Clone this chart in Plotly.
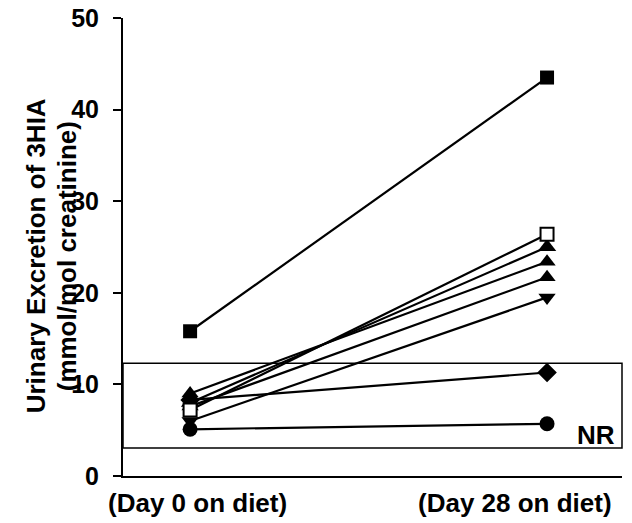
import plotly.graph_objects as go

# ---- data ----
day_labels = ["(Day 0 on diet)", "(Day 28 on diet)"]
day_x = [0, 1]
subj_filled_square = [15.8, 43.5]
subj_tri_a = [8.0, 25.0]
subj_open_square = [7.2, 26.4]
subj_tri_b = [9.0, 23.4]
subj_tri_c = [7.6, 21.7]
subj_tri_down = [6.0, 19.5]
subj_diamond = [8.3, 11.3]
subj_circle = [5.1, 5.7]
nr_low, nr_high = 3.05, 12.3
y_ticks = [0, 10, 20, 30, 40, 50]
y_title_lines = ["Urinary Excretion of 3HIA", "(mmol/mol creatinine)"]

FONT = "Liberation Sans, Arial, sans-serif"

series = [
    (subj_circle, "circle", "black", 15),
    (subj_diamond, "diamond", "black", 15),
    (subj_tri_down, "triangle-down", "black", 15),
    (subj_tri_c, "triangle-up", "black", 15),
    (subj_tri_b, "triangle-up", "black", 15),
    (subj_tri_a, "triangle-up", "black", 16),
    (subj_open_square, "square", "white", 13),
    (subj_filled_square, "square", "black", 14),
]

fig = go.Figure()
for vals, sym, fill, size in series:
    fig.add_trace(go.Scatter(
        x=day_x, y=vals, mode="lines+markers",
        line=dict(color="black", width=2.2),
        marker=dict(symbol=sym, color=fill, size=size,
                    line=dict(color="black", width=2 if fill == "white" else 0)),
        showlegend=False, hoverinfo="skip",
    ))

# NR reference box
fig.add_shape(type="rect", xref="paper", yref="y", x0=0, x1=1,
              y0=nr_low, y1=nr_high, line=dict(color="black", width=1.5),
              layer="below")
fig.add_annotation(text="<b>NR</b>", xref="paper", yref="y", x=0.99, y=nr_low - 0.4,
                   xanchor="right", yanchor="bottom", showarrow=False,
                   font=dict(family=FONT, size=26, color="black"))

# x category labels
for lab, xp in zip(day_labels, [0.02, 0.91]):
    fig.add_annotation(text=f"<b>{lab}</b>", xref="x", yref="paper", x=xp, y=-0.059,
                       xanchor="center", yanchor="middle", showarrow=False,
                       font=dict(family=FONT, size=26, color="black"))

# y title (two lines)
for txt, xp in zip(y_title_lines, [-0.174, -0.112]):
    fig.add_annotation(text=f"<b>{txt}</b>",
                       xref="paper", yref="paper", x=xp, y=0.48, textangle=-90,
                       xanchor="center", yanchor="middle", showarrow=False,
                       font=dict(family=FONT, size=26, color="black"))

fig.update_layout(
    width=632, height=523,
    margin=dict(l=123, r=10, t=18, b=47, autoexpand=False),
    paper_bgcolor="white", plot_bgcolor="white",
    xaxis=dict(range=[-0.188, 1.21], showline=True, linecolor="black", linewidth=2,
               showgrid=False, zeroline=False, showticklabels=False, ticks=""),
    yaxis=dict(range=[0, 50], showline=True, linecolor="black", linewidth=2,
               showgrid=False, zeroline=False, ticks="outside", ticklen=8,
               tickwidth=2, tickcolor="black", tickvals=y_ticks,
               ticktext=[f"<b>{v}</b>" for v in y_ticks],
               ticklabelstandoff=9, ticklabeloverflow="allow",
               tickfont=dict(family=FONT, size=25, color="black")),
)

# remove the default 8px page margin so the figure fills the window exactly
fig.write_html("out.html", config={"displayModeBar": False},
               post_script="document.body.style.margin='0';")
